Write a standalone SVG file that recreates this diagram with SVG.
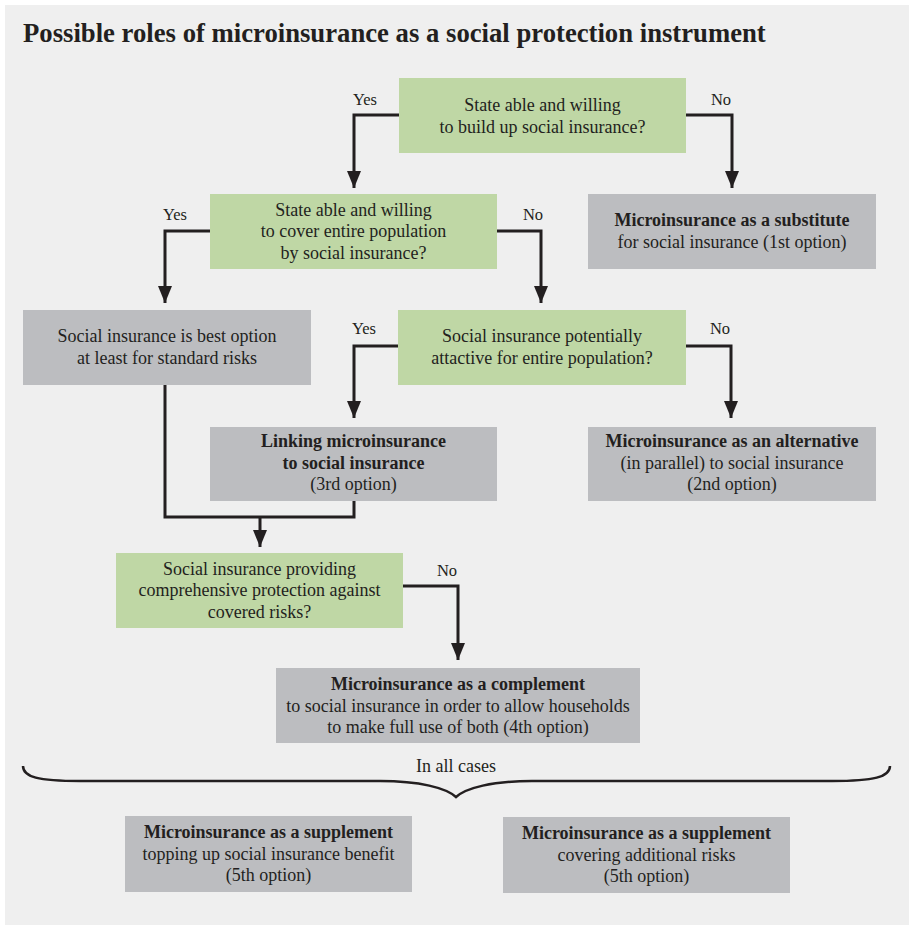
<svg xmlns="http://www.w3.org/2000/svg" width="909" height="929" viewBox="0 0 909 929">
<style>
text{font-family:"Liberation Serif","Times New Roman",serif;fill:#231f20;font-size:18px;text-anchor:middle}
.t{font-size:26.7px;font-weight:bold;text-anchor:start}
.l{font-size:16.5px}
.b{font-weight:bold}
.q{fill:#bfd7a5}
.o{fill:#bcbdc0}
.c{fill:none;stroke:#231f20;stroke-width:3}
.a{fill:none;stroke:#231f20;stroke-width:3;marker-end:url(#ah)}
</style>
<defs>
<marker id="ah" markerUnits="userSpaceOnUse" markerWidth="18" markerHeight="14" refX="17" refY="7" orient="auto">
<path d="M0,0 L17,7 L0,14 Z" fill="#231f20"/>
</marker>
</defs>
<rect x="0" y="0" width="909" height="929" fill="#ffffff"/>
<rect x="5" y="5" width="904" height="920" fill="#efefef"/>
<text class="t" x="23" y="42">Possible roles of microinsurance as a social protection instrument</text>

<g id="connectors">
<polyline class="a" points="399,115 354,115 354,188"/>
<polyline class="a" points="686,115 732,115 732,188"/>
<polyline class="a" points="210,231 165,231 165,303"/>
<polyline class="a" points="497,231 541,231 541,303"/>
<polyline class="a" points="398,346 354,346 354,418"/>
<polyline class="a" points="686,346 731,346 731,418"/>
<polyline class="c" points="165,385 165,517 354,517 354,501"/>
<line class="a" x1="260" y1="517" x2="260" y2="547"/>
<polyline class="a" points="403,586 458,586 458,660"/>
<text class="l" x="365" y="105">Yes</text>
<text class="l" x="721" y="105">No</text>
<text class="l" x="175" y="220">Yes</text>
<text class="l" x="533" y="220">No</text>
<text class="l" x="364" y="334">Yes</text>
<text class="l" x="720" y="334">No</text>
<text class="l" x="447" y="576">No</text>
</g>

<g id="q1">
<rect class="q" x="399" y="78" width="287" height="75"/>
<text x="542.5" y="111">State able and willing</text>
<text x="542.5" y="132.5">to build up social insurance?</text>
</g>
<g id="q2">
<rect class="q" x="210" y="194" width="287" height="75"/>
<text x="353.5" y="215.5">State able and willing</text>
<text x="353.5" y="237">to cover entire population</text>
<text x="353.5" y="258.5">by social insurance?</text>
</g>
<g id="substitute">
<rect class="o" x="588" y="194" width="288" height="75"/>
<text class="b" x="732" y="226">Microinsurance as a substitute</text>
<text x="732" y="247.5">for social insurance (1st option)</text>
</g>
<g id="best">
<rect class="o" x="23" y="310" width="288" height="75"/>
<text x="167" y="342">Social insurance is best option</text>
<text x="167" y="363.5">at least for standard risks</text>
</g>
<g id="q3">
<rect class="q" x="398" y="310" width="288" height="75"/>
<text x="542" y="342">Social insurance potentially</text>
<text x="542" y="363.5">attactive for entire population?</text>
</g>
<g id="linking">
<rect class="o" x="210" y="427" width="287" height="74"/>
<text class="b" x="353.5" y="447">Linking microinsurance</text>
<text class="b" x="353.5" y="468.5">to social insurance</text>
<text x="353.5" y="490">(3rd option)</text>
</g>
<g id="alternative">
<rect class="o" x="588" y="427" width="288" height="74"/>
<text class="b" x="732" y="447">Microinsurance as an alternative</text>
<text x="732" y="468.5">(in parallel) to social insurance</text>
<text x="732" y="490">(2nd option)</text>
</g>
<g id="q4">
<rect class="q" x="116" y="553" width="287" height="75"/>
<text x="259.5" y="574.5">Social insurance providing</text>
<text x="259.5" y="596">comprehensive protection against</text>
<text x="259.5" y="617.5">covered risks?</text>
</g>
<g id="complement">
<rect class="o" x="276" y="668" width="364" height="75"/>
<text class="b" x="458" y="690">Microinsurance as a complement</text>
<text x="458" y="711.5">to social insurance in order to allow households</text>
<text x="458" y="733">to make full use of both (4th option)</text>
</g>
<g id="brace">
<path d="M23,766 C23,777 38,781 80,781 L380,781 C420,781 446,788 456,797 C466,788 492,781 532,781 L832,781 C874,781 890,777 890,766" fill="none" stroke="#231f20" stroke-width="2.5"/>
<text x="456" y="772">In all cases</text>
</g>
<g id="supplement1">
<rect class="o" x="125" y="816" width="287" height="76"/>
<text class="b" x="268.5" y="838">Microinsurance as a supplement</text>
<text x="268.5" y="859.5">topping up social insurance benefit</text>
<text x="268.5" y="881">(5th option)</text>
</g>
<g id="supplement2">
<rect class="o" x="503" y="817" width="287" height="76"/>
<text class="b" x="646.5" y="839">Microinsurance as a supplement</text>
<text x="646.5" y="860.5">covering additional risks</text>
<text x="646.5" y="882">(5th option)</text>
</g>
</svg>
